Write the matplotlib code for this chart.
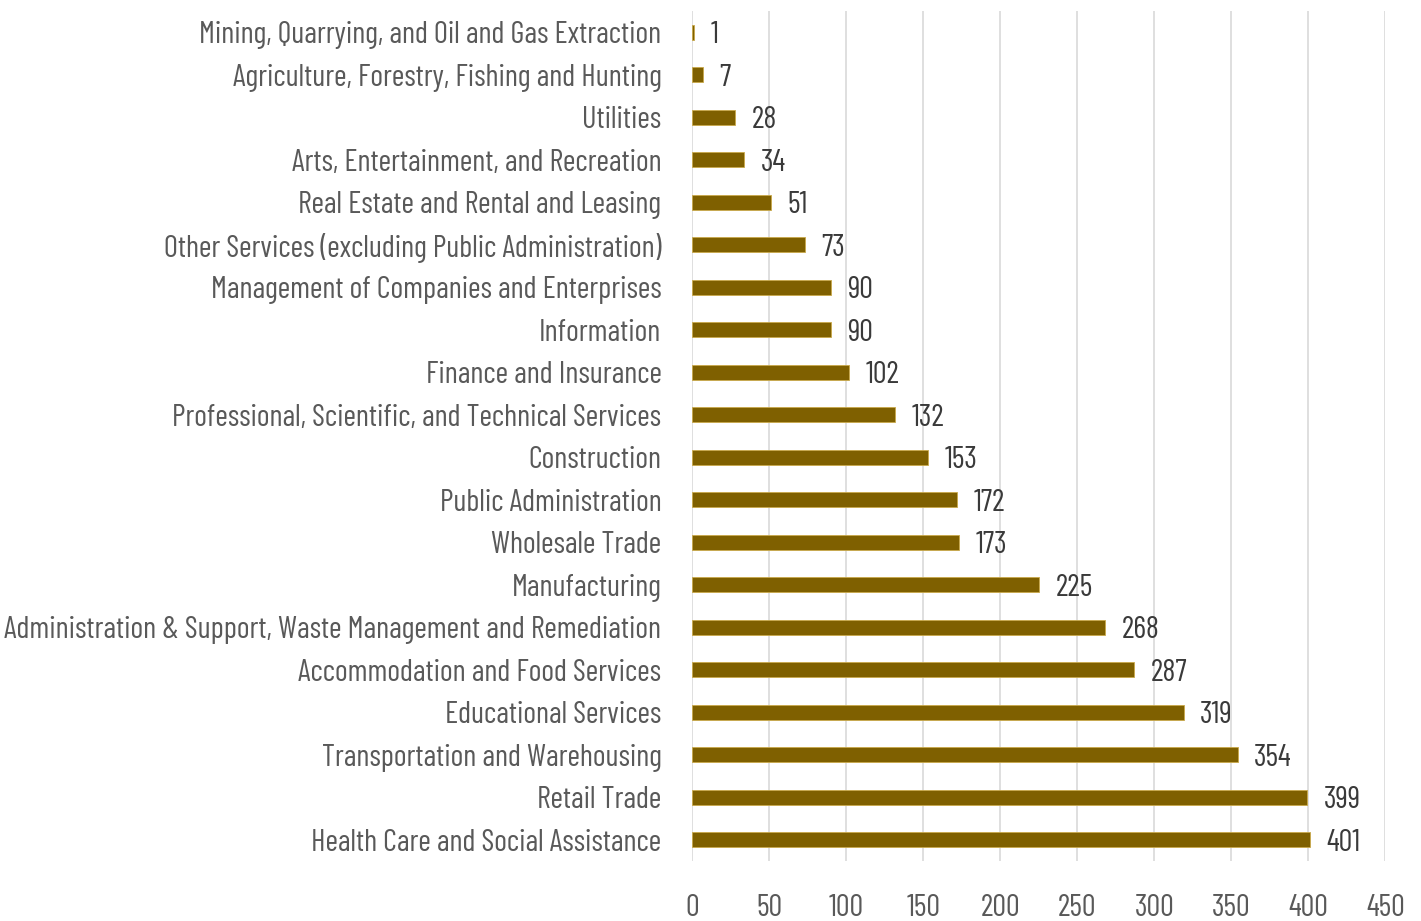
import matplotlib
matplotlib.use("Agg")
import matplotlib.pyplot as plt
from matplotlib import font_manager

# industries, top to bottom as shown
industries = [
    "Mining, Quarrying, and Oil and Gas Extraction",
    "Agriculture, Forestry, Fishing and Hunting",
    "Utilities",
    "Arts, Entertainment, and Recreation",
    "Real Estate and Rental and Leasing",
    "Other Services (excluding Public Administration)",
    "Management of Companies and Enterprises",
    "Information",
    "Finance and Insurance",
    "Professional, Scientific, and Technical Services",
    "Construction",
    "Public Administration",
    "Wholesale Trade",
    "Manufacturing",
    "Administration & Support, Waste Management and Remediation",
    "Accommodation and Food Services",
    "Educational Services",
    "Transportation and Warehousing",
    "Retail Trade",
    "Health Care and Social Assistance",
]
counts = [1, 7, 28, 34, 51, 73, 90, 90, 102, 132, 153, 172, 173, 225, 268, 287, 319, 354, 399, 401]
xticks = [0, 50, 100, 150, 200, 250, 300, 350, 400, 450]

# a condensed face if there is one
names = {f.name for f in font_manager.fontManager.ttflist}
wanted = ["Barlow Condensed", "Roboto Condensed", "Fira Sans Condensed",
          "Pathway Gothic One", "Liberation Sans Narrow"]
family = [n for n in wanted if n in names][:1] + ["DejaVu Sans"]
plt.rcParams["font.family"] = family

fig = plt.figure(figsize=(14.21, 9.21), dpi=100)
ax = fig.add_axes([0.487, 0.065, 0.488, 0.923])

ypos = list(range(len(industries)))
ax.barh(ypos, counts, height=0.35, color="#7f6000", edgecolor="#c9a94a", linewidth=0.6, zorder=3)
for y, v in zip(ypos, counts):
    ax.annotate(str(v), (v, y), xytext=(12, 0), textcoords="offset points",
                va="center_baseline", ha="left", fontsize=22, color="#3a3a3a")

ax.set_ylim(len(industries) - 0.5, -0.5)
ax.set_xlim(0, 450)
ax.set_xticks(xticks)
ax.set_yticks(ypos)
ax.set_yticklabels(industries)
ax.tick_params(axis="y", length=0, pad=22, labelsize=22, labelcolor="#595959")
ax.tick_params(axis="x", length=0, pad=24, labelsize=22, labelcolor="#595959")
ax.grid(axis="x", color="#d9d9d9", linewidth=1.2, zorder=0)
for s in ax.spines.values():
    s.set_visible(False)

fig.savefig("out.png", dpi=100)
